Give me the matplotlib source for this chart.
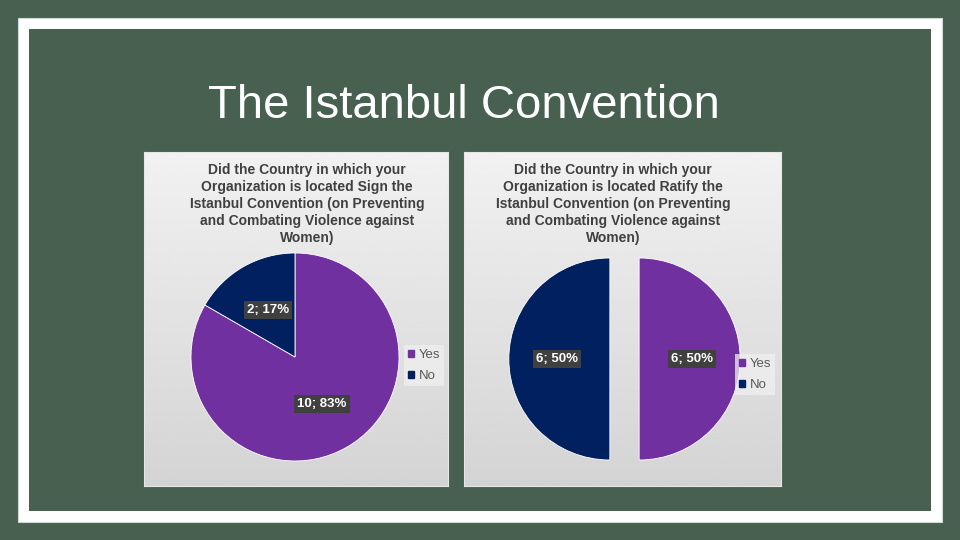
import matplotlib
matplotlib.use("Agg")
import matplotlib.pyplot as plt
import matplotlib.patches as mpatches
import numpy as np

# data
categories = ["Yes", "No"]
signed_counts = [10, 2]
ratified_counts = [6, 6]
slide_title = "The Istanbul Convention"
signed_title = ("Did the Country in which your\nOrganization is located Sign the\n"
                "Istanbul Convention (on Preventing\nand Combating Violence against\nWomen)")
ratified_title = ("Did the Country in which your\nOrganization is located Ratify the\n"
                  "Istanbul Convention (on Preventing\nand Combating Violence against\nWomen)")
colors = ["#7030A0", "#002060"]

W, H = 960, 540
BG = "#47604F"


def fx(px):
    return px / W


def fy(py):
    return 1 - py / H


def box(x0, y0, x1, y1):
    # pixel box -> figure rect
    return [fx(x0), fy(y1), (x1 - x0) / W, (y1 - y0) / H]


fig = plt.figure(figsize=(9.6, 5.4), dpi=100)
fig.patch.set_facecolor(BG)

# white frame
fig.add_artist(mpatches.Rectangle((fx(18), fy(522)), (942 - 18) / W, (522 - 18) / H,
                                  transform=fig.transFigure, facecolor="white",
                                  edgecolor="#cfd8d2", linewidth=0.8, zorder=0))
fig.add_artist(mpatches.Rectangle((fx(29), fy(511)), (931 - 29) / W, (511 - 29) / H,
                                  transform=fig.transFigure, facecolor=BG,
                                  edgecolor="none", zorder=0))

fig.text(fx(464), fy(106), slide_title, ha="center", va="center", color="white",
         fontsize=34, family="Liberation Sans")


def panel(x0, y0, x1, y1):
    ax = fig.add_axes(box(x0, y0, x1, y1))
    grad = np.linspace(0.945, 0.83, 256).reshape(-1, 1)
    ax.imshow(grad, aspect="auto", cmap="gray", vmin=0, vmax=1,
              extent=[0, 1, 0, 1])
    ax.set_xticks([])
    ax.set_yticks([])
    for s in ax.spines.values():
        s.set_color("#e6e6e6")
        s.set_linewidth(0.8)
    return ax


def pie_chart(counts, cx, cy, r, explode, title, tx, legend_xy):
    h = 1.4 * r
    ax = fig.add_axes(box(cx - h, cy - h, cx + h, cy + h))
    ax.patch.set_alpha(0)
    total = sum(counts)
    wedges, _, autotexts = ax.pie(
        counts, colors=colors, startangle=90, counterclock=False,
        explode=explode, radius=1.0, pctdistance=0.52,
        autopct=lambda p: "%d; %d%%" % (round(p * total / 100), round(p)),
        wedgeprops=dict(edgecolor="white", linewidth=0.6),
        textprops=dict(color="white", fontsize=9.5, fontweight="bold",
                       family="Liberation Sans"),
    )
    for t in autotexts:
        t.set_bbox(dict(facecolor="#404040", edgecolor="none", pad=2.2))
    ax.set_xlim(-1.4, 1.4)
    ax.set_ylim(-1.4, 1.4)
    ax.axis("off")

    fig.text(fx(tx), fy(163), title, ha="center", va="top", color="#404040",
             fontsize=10, fontweight="bold", family="Liberation Sans",
             linespacing=1.28)

    handles = [mpatches.Patch(color=c, label=l) for c, l in zip(colors, categories)]
    leg = fig.legend(handles=handles, loc="upper left",
                     bbox_to_anchor=(fx(legend_xy[0]), fy(legend_xy[1])),
                     frameon=True, handlelength=0.45, handleheight=0.45,
                     handletextpad=0.35, labelspacing=0.72, borderpad=0.3,
                     borderaxespad=0, prop=dict(family="Liberation Sans", size=9.5))
    leg.get_frame().set_facecolor("#f0f0f0")
    leg.get_frame().set_alpha(0.75)
    leg.get_frame().set_edgecolor("none")
    leg.get_frame().set_boxstyle("square", pad=0)
    for t in leg.get_texts():
        t.set_color("#595959")
    return ax


panel(144, 152, 448, 486)
panel(464, 152, 781, 486)

pie_chart(signed_counts, 295, 357, 104, [0, 0], signed_title, 307, (404, 345))
pie_chart(ratified_counts, 624.5, 359, 101, [0.145, 0.145], ratified_title, 613,
          (735, 354))

fig.savefig("out.png", dpi=100, facecolor=fig.get_facecolor())
